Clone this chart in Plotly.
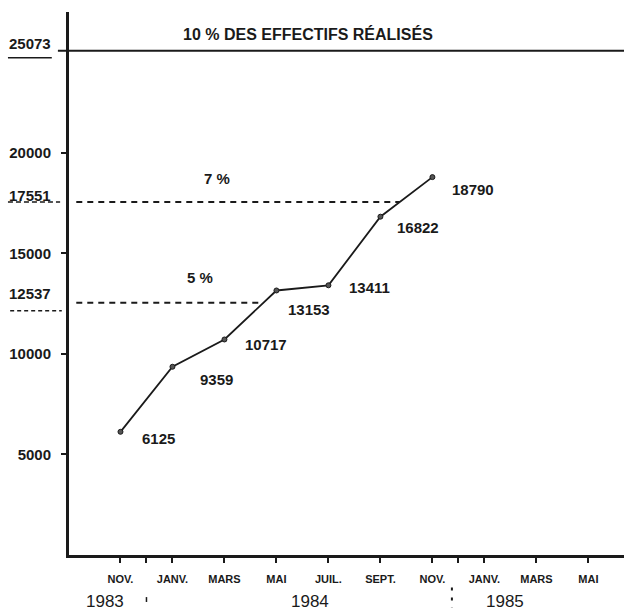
import numpy as np
import plotly.graph_objects as go

# ---- data ----
months = [0, 2, 4, 6, 8, 10, 12]          # month index, 0 = NOV. 1983
effectifs = [6125, 9359, 10717, 13153, 13411, 16822, 18790]
tick_months = [0, 1, 2, 4, 6, 8, 10, 12, 13, 14, 16, 18]
tick_labels = ["NOV.", "", "JANV.", "MARS", "MAI", "JUIL.", "SEPT.", "NOV.", "", "JANV.", "MARS", "MAI"]
y_ticks = [5000, 10000, 15000, 20000]
target_10 = 25073
target_7 = 17551
target_5 = 12537
years = ["1983", "1984", "1985"]
year_pos = [-0.6, 7.3, 14.8]
title_text = "10 % DES EFFECTIFS RÉALISÉS"

# ---- styling offsets (pixels) ----
lab_dx = [20, 26, 19, 10, 19, 15, 18]
lab_dy = [7, 13, 5, 19, 2, 11, 12]

INK = "#1a1a1a"
FONT = "Liberation Sans, Arial, sans-serif"
NUM_FONT = dict(family=FONT, size=15, color=INK, weight="bold")

fig = go.Figure()
fig.add_trace(go.Scatter(
    x=months, y=effectifs, mode="lines+markers",
    line=dict(color=INK, width=1.8),
    marker=dict(symbol="circle", size=5, color="#555", line=dict(color=INK, width=1)),
    hoverinfo="x+y", showlegend=False,
))

x_start = -1.7
end7 = float(np.interp(target_7, effectifs, months))
end5 = float(np.interp(target_5, effectifs, months))

shapes = [
    # 10 % line
    dict(type="line", xref="paper", yref="y", x0=-0.02, x1=1, y0=target_10, y1=target_10,
         line=dict(color=INK, width=2)),
    dict(type="line", xref="paper", yref="y", ysizemode="pixel", yanchor=target_10,
         x0=-0.110, x1=-0.031, y0=-7, y1=-7, line=dict(color=INK, width=1.5)),
    # 7 % dashed line
    dict(type="line", xref="x", yref="y", x0=x_start, x1=end7, y0=target_7, y1=target_7,
         line=dict(color=INK, width=2, dash="6px,5px")),
    dict(type="line", xref="paper", yref="y", x0=-0.110, x1=-0.016, y0=target_7, y1=target_7,
         line=dict(color=INK, width=1.5, dash="5px,3px")),
    # 5 % dashed line
    dict(type="line", xref="x", yref="y", x0=x_start, x1=end5, y0=target_5, y1=target_5,
         line=dict(color=INK, width=2, dash="6px,5px")),
    dict(type="line", xref="paper", yref="y", ysizemode="pixel", yanchor=target_5,
         x0=-0.106, x1=-0.013, y0=-8, y1=-8, line=dict(color=INK, width=1.5, dash="4px,3px")),
    # year separators
    dict(type="line", xref="x", yref="paper", x0=1, x1=1, y0=-0.0775, y1=-0.0865,
         line=dict(color=INK, width=1.5)),
    dict(type="line", xref="x", yref="paper", x0=12.75, x1=12.75, y0=-0.060, y1=-0.097,
         line=dict(color=INK, width=2, dash="3px,7px")),
]

annotations = []
for m, v, dx, dy in zip(months, effectifs, lab_dx, lab_dy):
    annotations.append(dict(x=m, y=v, xref="x", yref="y", text=f"{v}", showarrow=False,
                            xanchor="left", yanchor="middle", xshift=dx, yshift=-dy,
                            font=NUM_FONT))
for val, dy in [(target_10, 7), (target_7, 7), (target_5, 9)]:
    annotations.append(dict(x=-0.07, y=val, xref="paper", yref="y", text=f"{val}", showarrow=False,
                            xanchor="center", yanchor="middle", yshift=dy, font=NUM_FONT))
annotations.append(dict(x=7.2, y=target_10, xref="x", yref="y", text=f"<b>{title_text}</b>",
                        showarrow=False, yshift=17, font=dict(family=FONT, size=16, color=INK)))
annotations.append(dict(x=3.7, y=target_7, xref="x", yref="y", text="<b>7 %</b>",
                        showarrow=False, yshift=24, font=dict(family=FONT, size=15, color=INK)))
annotations.append(dict(x=3.05, y=target_5, xref="x", yref="y", text="<b>5 %</b>",
                        showarrow=False, yshift=25, font=dict(family=FONT, size=15, color=INK)))
for yr, p in zip(years, year_pos):
    annotations.append(dict(x=p, y=-0.085, xref="x", yref="paper", text=yr, showarrow=False,
                            yanchor="middle", font=dict(family=FONT, size=17, color=INK)))

fig.update_layout(
    width=624, height=613,
    margin=dict(l=69, r=0, t=12, b=58),
    paper_bgcolor="white", plot_bgcolor="white",
    shapes=shapes, annotations=annotations,
    xaxis=dict(range=[-1.98, 19.37], tickmode="array", tickvals=tick_months, ticktext=tick_labels,
               showgrid=False, zeroline=False, showline=True, linecolor=INK, linewidth=2.5,
               ticks="outside", ticklen=5, tickwidth=2, tickcolor=INK, ticklabelstandoff=7,
               tickfont=dict(family=FONT, size=11, color=INK, weight="bold")),
    yaxis=dict(range=[0, 27000], tickmode="array", tickvals=y_ticks,
               ticktext=[str(t) for t in y_ticks],
               showgrid=False, zeroline=False, showline=True, linecolor=INK, linewidth=3,
               ticks="outside", ticklen=5, tickwidth=1.5, tickcolor=INK, ticklabelstandoff=7,
               tickfont=NUM_FONT),
)

fig.write_html("out.html", config={"displayModeBar": False},
               post_script="document.body.style.margin='0';document.body.style.overflow='hidden';")
